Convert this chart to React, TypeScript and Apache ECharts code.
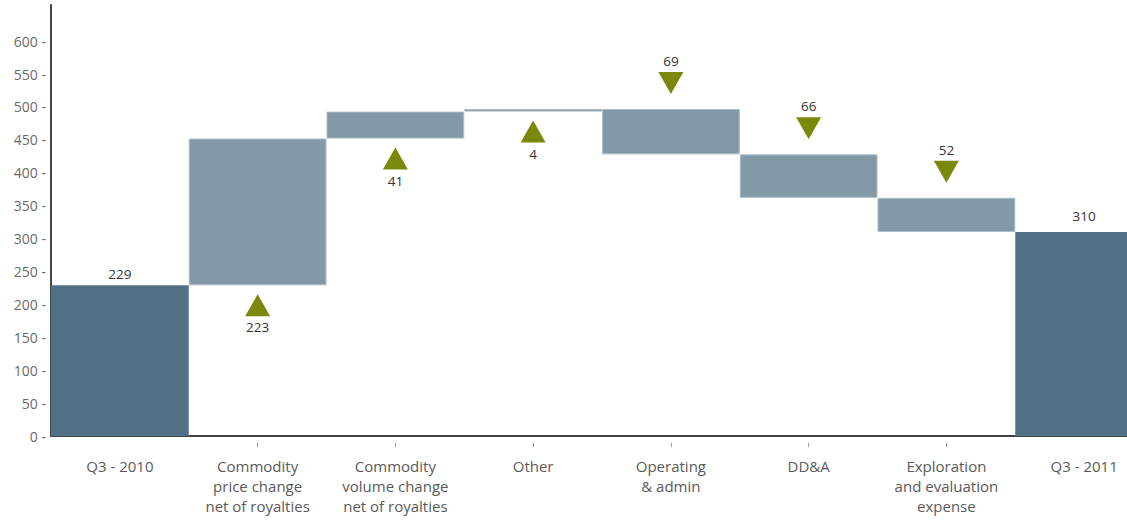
import React, { useEffect, useRef } from "react";
import * as echarts from "echarts";

const categories = [
  "Q3 - 2010",
  "Commodity\nprice change\nnet of royalties",
  "Commodity\nvolume change\nnet of royalties",
  "Other",
  "Operating\n& admin",
  "DD&A",
  "Exploration\nand evaluation\nexpense",
  "Q3 - 2011",
];
const startValue = 229;
const changes = [223, 41, 4, -69, -66, -52];
const endValue = 310;
const yTicks = [0, 50, 100, 150, 200, 250, 300, 350, 400, 450, 500, 550, 600];

const DARK = "#517086";
const LIGHT = "#8499a6";
const OLIVE = "#7a880c";
const FONT = "Open Sans";
const NUM = { color: "#333", fontSize: 13.5, fontFamily: FONT, fontWeight: 500 };

export default function App() {
  const ref = useRef<HTMLDivElement>(null);
  useEffect(() => {
    if (!ref.current) return;
    const chart = echarts.init(ref.current, null, { renderer: "svg" });

    const base: number[] = [0];
    const vis: any[] = [];
    const marks: any[] = [];
    vis.push({
      value: startValue,
      itemStyle: { color: DARK, borderWidth: 0 },
      label: { show: true, position: "top", distance: 4, formatter: String(startValue), ...NUM },
    });
    let cum = startValue;
    changes.forEach((c, i) => {
      const next = cum + c;
      base.push(Math.min(cum, next));
      vis.push({
        value: Math.abs(c),
        itemStyle: { color: LIGHT, borderColor: "#a9bcc7", borderWidth: 1 },
        label: { show: false },
      });
      const up = c >= 0;
      marks.push({
        value: [i + 1, cum],
        symbol: "triangle",
        symbolRotate: up ? 0 : 180,
        symbolOffset: [0, up ? 20 : -26],
        itemStyle: { color: OLIVE, opacity: 1 },
        label: {
          show: true,
          position: up ? "bottom" : "top",
          distance: 4,
          formatter: String(Math.abs(c)),
          ...NUM,
        },
      });
      cum = next;
    });
    base.push(0);
    vis.push({
      value: endValue,
      itemStyle: { color: DARK, borderWidth: 0 },
      label: { show: true, position: "top", distance: 9, formatter: String(endValue), ...NUM },
    });

    const option: any = {
      animation: false,
      textStyle: { fontFamily: FONT },
      grid: { left: 51, right: 0, top: 5, bottom: 84 },
      xAxis: [
        {
          type: "category",
          data: categories,
          axisLine: { show: true, lineStyle: { color: "#444", width: 2 } },
          axisTick: { show: false },
          axisLabel: {
            color: "#5a5a5a",
            fontSize: 15,
            fontFamily: FONT,
            lineHeight: 20,
            margin: 20,
            interval: 0,
          },
        },
        {
          type: "category",
          data: categories,
          position: "bottom",
          offset: 7,
          axisLine: { show: false },
          axisTick: {
            show: true,
            alignWithLabel: true,
            length: 4,
            lineStyle: { color: "#999", width: 1 },
            interval: (idx: number) => idx > 0 && idx < categories.length - 1,
          },
          axisLabel: { show: false },
        },
      ],
      yAxis: {
        type: "value",
        min: 0,
        max: 655,
        interval: 50,
        splitLine: { show: false },
        axisTick: { show: false },
        axisLine: { show: true, lineStyle: { color: "#444", width: 2 } },
        axisLabel: {
          color: "#6a6a6a",
          fontSize: 14,
          fontFamily: FONT,
          margin: 5,
          formatter: (v: number) => (yTicks.includes(v) ? `${v} -` : ""),
        },
      },
      series: [
        {
          type: "bar",
          stack: "w",
          data: base,
          barCategoryGap: 0,
          itemStyle: { color: "transparent" },
          emphasis: { disabled: true },
          silent: true,
        },
        {
          type: "bar",
          stack: "w",
          data: vis,
          barCategoryGap: 0,
          silent: true,
        },
        {
          type: "scatter",
          data: marks,
          symbolSize: [25, 22],
          itemStyle: { color: OLIVE, opacity: 1 },
          z: 5,
          silent: true,
        },
      ],
    };
    chart.setOption(option);
    return () => chart.dispose();
  }, []);

  return (
    <div
      style={{
        position: "absolute",
        left: 0,
        top: 0,
        width: 1127,
        height: 520,
        overflow: "hidden",
        background: "#fff",
      }}
    >
      <div ref={ref} style={{ width: 1153, height: 520 }} />
    </div>
  );
}
